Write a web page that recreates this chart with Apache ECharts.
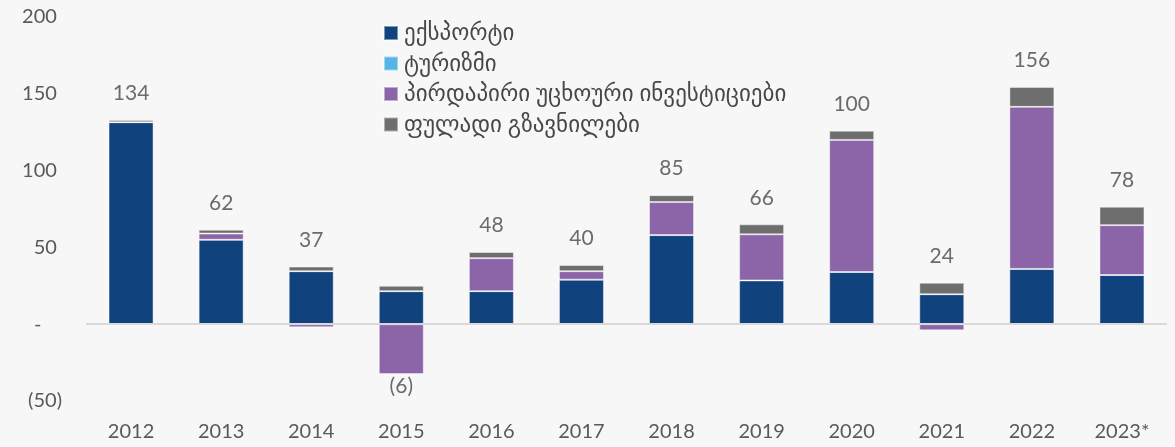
<!DOCTYPE html>
<html>
<head>
<meta charset="utf-8">
<script src="https://cdn.jsdelivr.net/npm/echarts@6/dist/echarts.min.js"></script>
<style>
	html, body { margin: 0; padding: 0; background: #f7f7f7; }
	#chart { width: 1175px; height: 447px; }
</style>
</head>
<body>
<div id="chart"></div>
<script>
	var years = ['2012', '2013', '2014', '2015', '2016', '2017', '2018', '2019', '2020', '2021', '2022', '2023*'];
	var exportVals = [131.5, 55, 34.5, 21.5, 21.5, 29, 58, 28.5, 34, 19.5, 36, 32];
	var tourismVals = [0, 0, 0, 0, 0, 0, 0, 0, 0, 0, 0, 0];
	var fdiVals = [0, 4, -2, -32.5, 21.5, 5.5, 21.5, 30, 86, -4, 105.5, 32.5];
	var remitVals = [1.5, 2.5, 3, 3.5, 4, 4, 4.5, 6.5, 6, 7.5, 13, 12];
	var totalLabels = ['134', '62', '37', '(6)', '48', '40', '85', '66', '100', '24', '156', '78'];
	var names = ['ექსპორტი', 'ტურიზმი', 'პირდაპირი უცხოური ინვესტიციები', 'ფულადი გზავნილები'];
	var colors = ['#10427e', '#56b4e6', '#8c64a8', '#6e6e6e'];

	var fontFam = 'Lato, "DejaVu Sans", sans-serif';
	var allVals = [exportVals, tourismVals, fdiVals, remitVals];

	// label anchor: top of the positive stack, or bottom of the negative one for "(x)"
	var labelPts = [];
	for (var i = 0; i < years.length; i++) {
		var pos = 0, neg = 0;
		for (var s = 0; s < allVals.length; s++) {
			if (allVals[s][i] >= 0) pos += allVals[s][i]; else neg += allVals[s][i];
		}
		var isNeg = totalLabels[i].charAt(0) === '(';
		labelPts.push({
			value: [years[i], isNeg ? neg : pos],
			label: { position: isNeg ? 'bottom' : 'top', distance: isNeg ? 2 : 16 }
		});
	}

	var series = [];
	for (var k = 0; k < names.length; k++) {
		series.push({
			name: names[k],
			type: 'bar',
			stack: 'flows',
			barWidth: 45,
			data: allVals[k],
			itemStyle: { color: colors[k], borderColor: 'rgba(255,255,255,0.45)', borderWidth: 1 }
		});
	}
	series[0].markLine = {
		silent: true,
		symbol: 'none',
		label: { show: false },
		lineStyle: { color: '#d9d9d9', width: 2, type: 'solid' },
		data: [{ yAxis: 0 }]
	};
	series.push({
		type: 'scatter',
		symbolSize: 0,
		data: labelPts,
		label: {
			show: true,
			color: '#474747',
			fontSize: 21,
			fontFamily: fontFam,
			formatter: function (p) { return totalLabels[p.dataIndex]; }
		},
		z: 5
	});

	var myChart = echarts.init(document.getElementById('chart'));
	var option = {
		backgroundColor: '#f7f7f7',
		animation: false,
		color: colors,
		grid: { left: 86, right: 8, top: 17, bottom: 46 },
		legend: {
			data: names,
			orient: 'vertical',
			left: 378,
			top: 16,
			itemWidth: 14,
			itemHeight: 14,
			itemGap: 6.5,
			icon: 'rect',
			textStyle: { fontSize: 23, lineHeight: 24, color: '#474747', fontFamily: fontFam, padding: [0, 0, 0, 1] }
		},
		xAxis: {
			type: 'category',
			data: years,
			axisLine: { show: false, onZero: false },
			axisTick: { show: false },
			axisLabel: { color: '#595959', fontSize: 20, fontFamily: fontFam, margin: 21 }
		},
		yAxis: {
			type: 'value',
			min: -50,
			max: 200,
			interval: 50,
			splitLine: { show: false },
			axisLine: { show: false },
			axisTick: { show: false },
			axisLabel: {
				color: '#595959',
				fontSize: 20,
				fontFamily: fontFam,
				margin: 24,
				formatter: function (v) {
					if (v < 0) return '(' + Math.abs(v) + ')';
					if (v === 0) return '-    ';
					return v + ' ';
				}
			}
		},
		series: series
	};
	option && myChart.setOption(option);
</script>
</body>
</html>
